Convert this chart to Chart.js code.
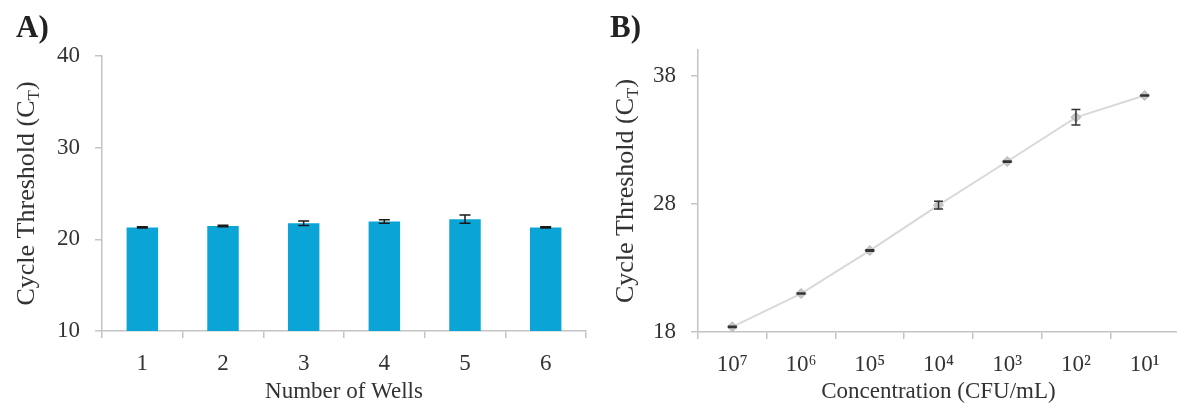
<!DOCTYPE html>
<html>
<head>
<meta charset="utf-8">
<script src="https://cdn.jsdelivr.net/npm/chart.js@4.4.1/dist/chart.umd.min.js"></script>
<style>
  html, body { margin: 0; padding: 0; background: #fff; }
  #wrap { position: relative; width: 1177px; height: 408px; overflow: hidden; }
  canvas { position: absolute; top: 0; }
  .tag {
    position: absolute;
    font: bold 31px "Liberation Serif", "Times New Roman", serif;
    line-height: 31px;
    color: #222;
  }
</style>
</head>
<body>
<div id="wrap">
  <canvas id="chartA" width="600" height="408" style="left:0"></canvas>
  <canvas id="chartB" width="595" height="408" style="left:590px"></canvas>
  <div class="tag" style="left:16px;top:11px">A)</div>
  <div class="tag" style="left:610px;top:11px">B)</div>
</div>
<script>
// panel A - wells
const wells = ["1", "2", "3", "4", "5", "6"];
const ctWells = [21.3, 21.45, 21.75, 21.95, 22.2, 21.3];
const ctWellsErr = [0.06, 0.08, 0.24, 0.2, 0.45, 0.07];
const ticksA = [10, 20, 30, 40];

// panel B - dilution series
const conc = ["10\u2077", "10\u2076", "10\u2075", "10\u2074", "10\u00b3", "10\u00b2", "10\u00b9"];
const ctConc = [18.4, 21.0, 24.35, 27.9, 31.3, 34.75, 36.45];
const ctConcErr = [0.04, 0.04, 0.06, 0.3, 0.05, 0.6, 0.03];
const ticksB = [18, 28, 38];

const SERIF = '"Liberation Serif", "Times New Roman", serif';
const TEXT = "#333";
const AXIS = "#c4c4c4";

Chart.defaults.font.family = SERIF;
Chart.defaults.color = TEXT;

// error bars drawn on top of the dataset
function makeErrorBars(errors, cap, color) {
  return {
    id: "errorBars",
    afterDatasetsDraw(chart) {
      const { ctx } = chart;
      const x = chart.scales.x, y = chart.scales.y;
      const vals = chart.data.datasets[0].data;
      ctx.save();
      ctx.strokeStyle = color;
      ctx.lineWidth = 1.5;
      vals.forEach((v, i) => {
        const e = errors[i];
        const px = x.getPixelForValue(i);
        const hi = y.getPixelForValue(v + e);
        const lo = y.getPixelForValue(v - e);
        ctx.beginPath();
        ctx.moveTo(px, hi); ctx.lineTo(px, lo);
        ctx.moveTo(px - cap / 2, hi); ctx.lineTo(px + cap / 2, hi);
        ctx.moveTo(px - cap / 2, lo); ctx.lineTo(px + cap / 2, lo);
        ctx.stroke();
      });
      ctx.restore();
    }
  };
}

// rotated y title with subscript T
function makeYTitle(cx) {
  return {
    id: "yTitle",
    afterDraw(chart) {
      const { ctx, chartArea } = chart;
      const cy = (chartArea.top + chartArea.bottom) / 2;
      const main = "Cycle Threshold (C";
      const sub = "T";
      const tail = ")";
      ctx.save();
      ctx.translate(cx, cy);
      ctx.rotate(-Math.PI / 2);
      ctx.fillStyle = TEXT;
      ctx.textBaseline = "alphabetic";
      ctx.font = "26px " + SERIF;
      const w1 = ctx.measureText(main).width;
      const w3 = ctx.measureText(tail).width;
      ctx.font = "17px " + SERIF;
      const w2 = ctx.measureText(sub).width;
      let x0 = -(w1 + w2 + w3) / 2;
      const base = 8;
      ctx.font = "26px " + SERIF;
      ctx.fillText(main, x0, base);
      ctx.font = "17px " + SERIF;
      ctx.fillText(sub, x0 + w1, base + 5);
      ctx.font = "26px " + SERIF;
      ctx.fillText(tail, x0 + w1 + w2, base);
      ctx.restore();
    }
  };
}

function axisGrid() {
  return { drawOnChartArea: false, drawTicks: true, tickLength: 7, color: AXIS, lineWidth: 1.5 };
}

new Chart(document.getElementById("chartA"), {
  type: "bar",
  data: {
    labels: wells,
    datasets: [{
      data: ctWells,
      backgroundColor: "#0aa4d6",
      borderWidth: 0,
      barPercentage: 0.39,
      categoryPercentage: 1
    }]
  },
  options: {
    responsive: false,
    animation: false,
    devicePixelRatio: 1,
    layout: { padding: { top: 56, right: 14, left: 0, bottom: 0 } },
    plugins: { legend: { display: false }, tooltip: { enabled: false } },
    scales: {
      x: {
        grid: { ...axisGrid(), offset: true },
        border: { color: AXIS, width: 1.5 },
        ticks: { font: { size: 23 }, padding: 12, color: TEXT },
        title: { display: true, text: "Number of Wells", font: { size: 23 }, padding: { top: 0, bottom: 2 }, color: TEXT },
        afterFit: (s) => { s.height = 77; }
      },
      y: {
        min: 10,
        max: 40,
        grid: axisGrid(),
        border: { color: AXIS, width: 1.5 },
        ticks: { font: { size: 23 }, padding: 15, color: TEXT },
        afterBuildTicks: (s) => { s.ticks = ticksA.map((v) => ({ value: v })); },
        afterFit: (s) => { s.width = 102; }
      }
    }
  },
  plugins: [makeErrorBars(ctWellsErr, 11, "#1a1a1a"), makeYTitle(26)]
});

new Chart(document.getElementById("chartB"), {
  type: "line",
  data: {
    labels: conc,
    datasets: [{
      data: ctConc,
      borderColor: "#d9d9d9",
      borderWidth: 2,
      tension: 0,
      pointStyle: "rectRot",
      pointRadius: 5,
      pointBackgroundColor: "#c6c6c6",
      pointBorderColor: "#b5b5b5",
      pointBorderWidth: 1
    }]
  },
  options: {
    responsive: false,
    animation: false,
    devicePixelRatio: 1,
    layout: { padding: { top: 50, right: 0, left: 0, bottom: 0 } },
    plugins: { legend: { display: false }, tooltip: { enabled: false } },
    scales: {
      x: {
        offset: true,
        grid: { ...axisGrid(), offset: true },
        border: { color: AXIS, width: 1.5 },
        ticks: { font: { size: 23 }, padding: 12, color: TEXT },
        title: { display: true, text: "Concentration (CFU/mL)", font: { size: 23 }, padding: { top: 0, bottom: 2 }, color: TEXT },
        afterFit: (s) => { s.height = 76; }
      },
      y: {
        min: 18,
        max: 40,
        grid: axisGrid(),
        border: { color: AXIS, width: 1.5 },
        ticks: { font: { size: 23 }, padding: 15, color: TEXT },
        afterBuildTicks: (s) => { s.ticks = ticksB.map((v) => ({ value: v })); },
        afterFit: (s) => { s.width = 108; }
      }
    }
  },
  plugins: [makeErrorBars(ctConcErr, 9, "#333"), makeYTitle(35)]
});
</script>
</body>
</html>
